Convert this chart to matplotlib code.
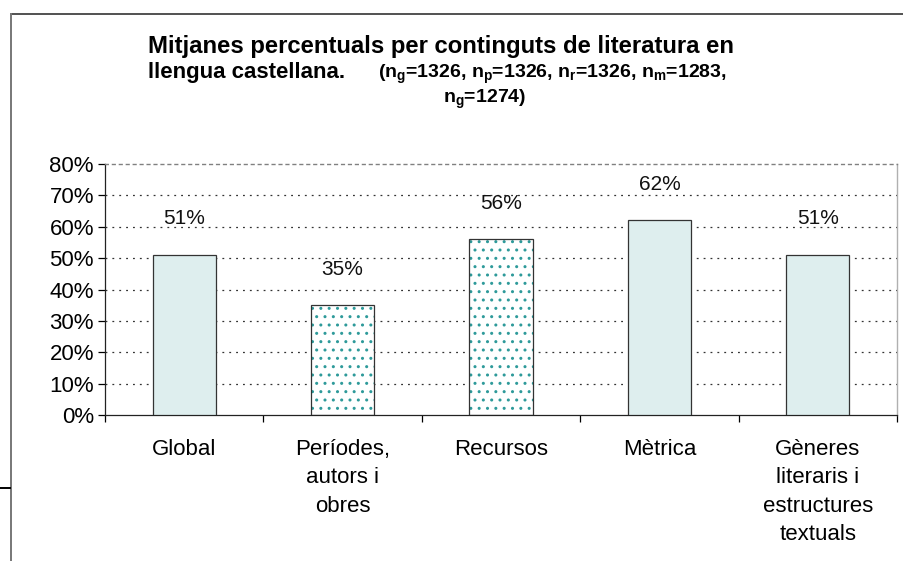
import matplotlib
matplotlib.use("Agg")
import matplotlib.pyplot as plt
from matplotlib.lines import Line2D

plt.rcParams['font.family'] = ['Liberation Sans', 'DejaVu Sans']
plt.rcParams['mathtext.fontset'] = 'custom'
plt.rcParams['mathtext.rm'] = 'Liberation Sans:bold'
plt.rcParams['mathtext.default'] = 'rm'
plt.rcParams['hatch.linewidth'] = 1.0

categories = ["Global", "Períodes,\nautors i\nobres", "Recursos", "Mètrica",
              "Gèneres\nliteraris i\nestructures\ntextuals"]
values = [51, 35, 56, 62, 51]
hatched = [False, True, True, False, False]
yticks = [0, 10, 20, 30, 40, 50, 60, 70, 80]

fig = plt.figure(figsize=(9.04, 5.61), dpi=100)
ax = fig.add_axes([105 / 904, 1 - 415 / 561, 792 / 904, 251 / 561])

x = list(range(len(values)))
for xi, v, h in zip(x, values, hatched):
    if h:
        ax.bar(xi, v, width=0.4, color='white', edgecolor='#2e9a9a',
               hatch='..', linewidth=0, zorder=2)
        ax.bar(xi, v, width=0.4, fill=False, edgecolor='#333333',
               linewidth=0.9, zorder=3)
    else:
        ax.bar(xi, v, width=0.4, color='#deeeee', edgecolor='#333333',
               linewidth=0.9, zorder=3)
    ax.text(xi, v + 11.5, f"{v}%", ha='center', va='center', fontsize=15,
            color='#111111', zorder=4)

ax.set_xlim(-0.5, len(values) - 0.5)
ax.set_ylim(0, 80)
ax.set_yticks(yticks)
ax.set_yticklabels([f"{t}%" for t in yticks], fontsize=16)
ax.set_xticks(x)
ax.set_xticklabels(categories, fontsize=16, linespacing=1.47, va='top')
ax.tick_params(axis='x', length=0, pad=17)
ax.tick_params(axis='y', length=5, width=0.9, pad=3)

# category boundary ticks below the axis
ax.set_xticks([i - 0.5 for i in range(len(values) + 1)], minor=True)
ax.tick_params(axis='x', which='minor', length=5, width=0.9, direction='out')

for t in yticks[1:-1]:
    ax.axhline(t, color='#333333', linestyle=(0, (1.5, 4)), linewidth=0.9, zorder=1)

ax.spines['left'].set_color('#222222')
ax.spines['bottom'].set_color('#222222')
ax.spines['left'].set_linewidth(0.9)
ax.spines['bottom'].set_linewidth(0.9)
ax.spines['top'].set_color('#808080')
ax.spines['top'].set_linestyle((0, (2, 3)))
ax.spines['top'].set_linewidth(1.0)
ax.spines['right'].set_color('#b0b0b0')
ax.spines['right'].set_linewidth(1.0)

# title
fig.text(441 / 904, 1 - 47 / 561, "Mitjanes percentuals per continguts de literatura en",
         ha='center', va='center', fontsize=17.2, fontweight='bold')
fig.text(148 / 904, 1 - 72 / 561, "llengua castellana.",
         ha='left', va='center', fontsize=16, fontweight='bold')
fig.text(378 / 904, 1 - 74 / 561,
         r"(n$_g$=1326, n$_p$=1326, n$_r$=1326, n$_m$=1283,",
         ha='left', va='center', fontsize=14, fontweight='bold')
fig.text(443 / 904, 1 - 99 / 561, r"n$_g$=1274)",
         ha='left', va='center', fontsize=14, fontweight='bold')

# outer chart frame
fig.add_artist(Line2D([11 / 904, 1], [1 - 14 / 561] * 2, transform=fig.transFigure,
                      color='#333333', linewidth=1.2))
fig.add_artist(Line2D([11 / 904] * 2, [1 - 14 / 561, 0], transform=fig.transFigure,
                      color='#777777', linewidth=1.4))
fig.add_artist(Line2D([0, 10 / 904], [1 - 488 / 561] * 2, transform=fig.transFigure,
                      color='black', linewidth=1.4))

fig.savefig("out.png", dpi=100)
